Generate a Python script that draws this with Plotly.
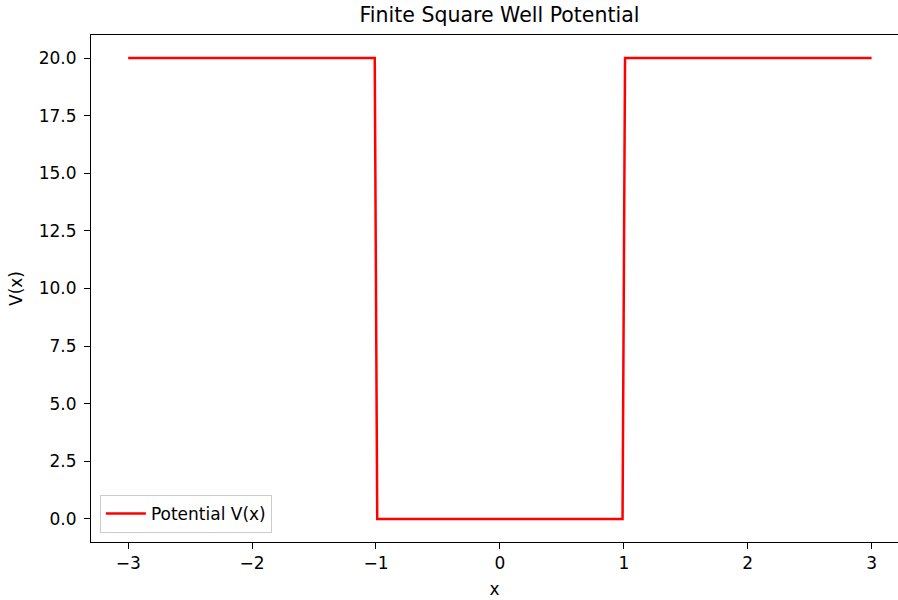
import plotly.graph_objects as go

# Data: finite square well, V0 = 20 outside |x| > 1
x_vals = [-3.0, -1.01, -0.99, 0.99, 1.01, 3.0]
v_vals = [20.0, 20.0, 0.0, 0.0, 20.0, 20.0]
series_name = "Potential V(x)"
x_ticks = [-3, -2, -1, 0, 1, 2, 3]
y_ticks = [0, 2.5, 5, 7.5, 10, 12.5, 15, 17.5, 20]

FONT = "DejaVu Sans, Liberation Sans, sans-serif"

fig = go.Figure()
fig.add_trace(go.Scatter(
    x=x_vals, y=v_vals, mode="lines", name=series_name,
    line=dict(color="red", width=2.5),
))

fig.update_layout(
    width=898, height=600,
    margin=dict(l=91, r=0, t=35, b=58),
    paper_bgcolor="white", plot_bgcolor="white",
    font=dict(family=FONT, size=17, color="black"),
    title=dict(text="Finite Square Well Potential", x=(91 + 908) / 2 / 898, xanchor="center",
               y=1 - 15 / 600, yanchor="middle", font=dict(size=20.5, color="black")),
    showlegend=True,
    legend=dict(x=0.011, y=0.018, xanchor="left", yanchor="bottom",
                bgcolor="rgba(255,255,255,0.8)", bordercolor="#cccccc", borderwidth=1,
                font=dict(size=17), itemwidth=40, entrywidth=180, tracegroupgap=0),
)

fig.update_xaxes(
    range=[-3.3, 3.213], tickvals=x_ticks, ticktext=[("\u2212" + str(-t)) if t < 0 else str(t) for t in x_ticks],
    showgrid=False, zeroline=False, showline=True, linecolor="black", linewidth=1, mirror=True,
    ticks="outside", ticklen=6, tickcolor="black", tickwidth=1,
    title=dict(text="x", standoff=10, font=dict(size=17)),
)
fig.update_yaxes(
    range=[-1, 21], tickvals=y_ticks, ticktext=[f"{t:.1f}" for t in y_ticks],
    showgrid=False, zeroline=False, showline=True, linecolor="black", linewidth=1, mirror=False,
    ticks="outside", ticklen=6, tickcolor="black", tickwidth=1, ticklabelstandoff=4,
    title=dict(text="V(x)", standoff=11, font=dict(size=17)),
)

fig.write_html("out.html", config={"displayModeBar": False},
               post_script="document.body.style.margin='0';document.body.style.overflow='hidden';")
